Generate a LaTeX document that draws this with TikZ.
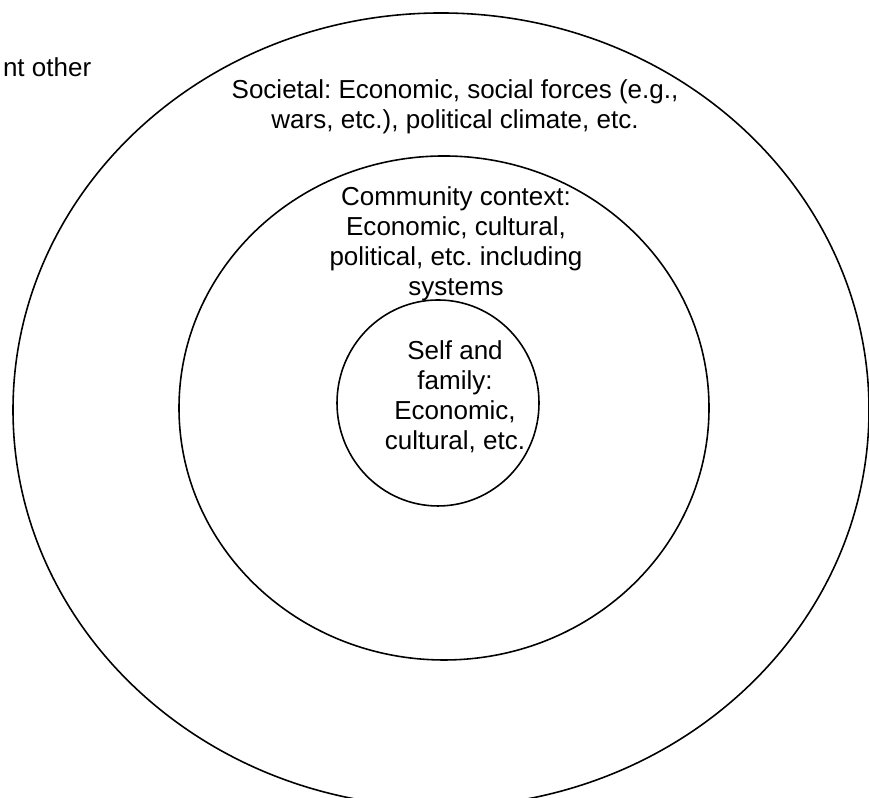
\documentclass[tikz,border=0pt]{standalone}
\usepackage{fontspec}
\setmainfont{Liberation Sans}
\frenchspacing
\begin{document}
\begin{tikzpicture}[line width=0.45pt,
    ring text/.style={align=center, inner sep=0pt, font=\fontsize{7.4}{8.54}\selectfont}]
    \useasboundingbox (0,0) rectangle (8.69,7.98);
    % the three levels
    \draw (4.41,3.88) ellipse [x radius=4.28, y radius=3.97]; % societal
    \draw (4.44,3.90) ellipse [x radius=2.65, y radius=2.52]; % community
    \draw (4.38,3.95) ellipse [x radius=1.01, y radius=1.03]; % self
    % labels
    \node [ring text, anchor=base east] (other) at (0.92,7.21) {nt other};
    \node [ring text] (societal) at (4.55,6.91) {Societal: Economic, social forces (e.g.,\\ wars, etc.), political climate, etc.};
    \node [ring text] (community) at (4.56,5.545) {Community context:\\ Economic, cultural,\\ political, etc. including\\ systems};
    \node [ring text] (self) at (4.55,4.01) {Self and\\ family:\\ Economic,\\ cultural, etc.};
\end{tikzpicture}
\end{document}
